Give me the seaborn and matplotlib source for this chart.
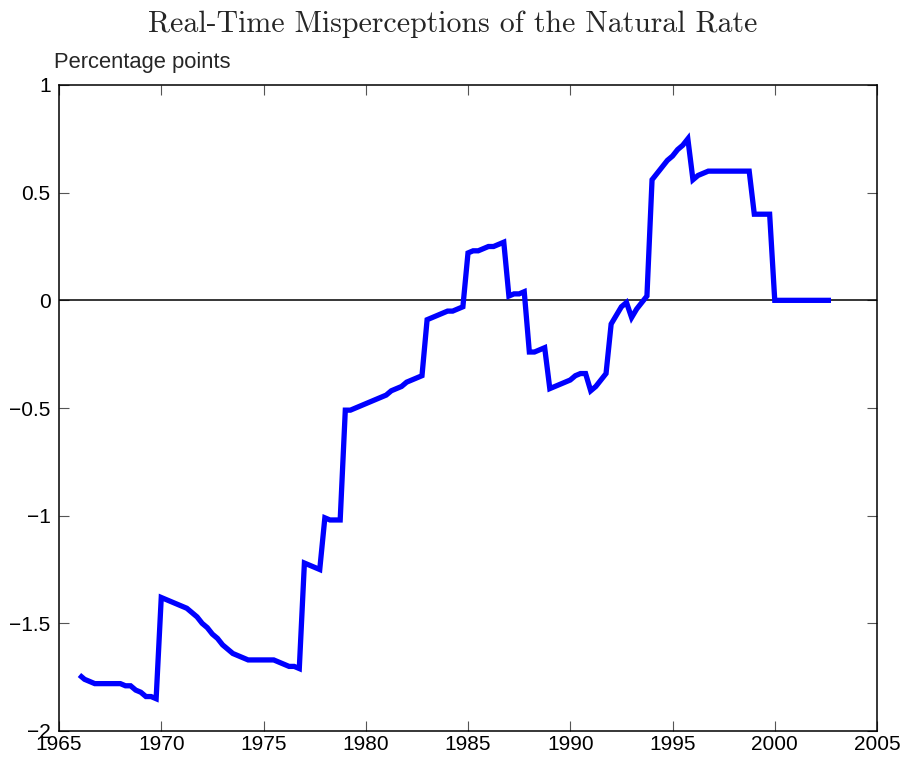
import numpy as np
import pandas as pd
import seaborn as sns
import matplotlib
matplotlib.use("Agg")
import matplotlib.pyplot as plt
from matplotlib.ticker import FuncFormatter

# quarterly real-time misperception of the natural rate, 1966Q1 - 2002Q4
start_year = 1966
misperception = [
    -1.74, -1.76, -1.77, -1.78,   # 1966
    -1.78, -1.78, -1.78, -1.78,   # 1967
    -1.78, -1.79, -1.79, -1.81,   # 1968
    -1.82, -1.84, -1.84, -1.85,   # 1969
    -1.38, -1.39, -1.40, -1.41,   # 1970
    -1.42, -1.43, -1.45, -1.47,   # 1971
    -1.50, -1.52, -1.55, -1.57,   # 1972
    -1.60, -1.62, -1.64, -1.65,   # 1973
    -1.66, -1.67, -1.67, -1.67,   # 1974
    -1.67, -1.67, -1.67, -1.68,   # 1975
    -1.69, -1.70, -1.70, -1.71,   # 1976
    -1.22, -1.23, -1.24, -1.25,   # 1977
    -1.01, -1.02, -1.02, -1.02,   # 1978
    -0.51, -0.51, -0.50, -0.49,   # 1979
    -0.48, -0.47, -0.46, -0.45,   # 1980
    -0.44, -0.42, -0.41, -0.40,   # 1981
    -0.38, -0.37, -0.36, -0.35,   # 1982
    -0.09, -0.08, -0.07, -0.06,   # 1983
    -0.05, -0.05, -0.04, -0.03,   # 1984
    0.22, 0.23, 0.23, 0.24,       # 1985
    0.25, 0.25, 0.26, 0.27,       # 1986
    0.02, 0.03, 0.03, 0.04,       # 1987
    -0.24, -0.24, -0.23, -0.22,   # 1988
    -0.41, -0.40, -0.39, -0.38,   # 1989
    -0.37, -0.35, -0.34, -0.34,   # 1990
    -0.42, -0.40, -0.37, -0.34,   # 1991
    -0.11, -0.07, -0.03, -0.01,   # 1992
    -0.08, -0.04, -0.01, 0.02,    # 1993
    0.56, 0.59, 0.62, 0.65,       # 1994
    0.67, 0.70, 0.72, 0.75,       # 1995
    0.56, 0.58, 0.59, 0.60,       # 1996
    0.60, 0.60, 0.60, 0.60,       # 1997
    0.60, 0.60, 0.60, 0.60,       # 1998
    0.40, 0.40, 0.40, 0.40,       # 1999
    0.00, 0.00, 0.00, 0.00,       # 2000
    0.00, 0.00, 0.00, 0.00,       # 2001
    0.00, 0.00, 0.00, 0.00,       # 2002
]
x_ticks = [1965, 1970, 1975, 1980, 1985, 1990, 1995, 2000, 2005]
y_ticks = [-2, -1.5, -1, -0.5, 0, 0.5, 1]

df = pd.DataFrame({
    "date": start_year + np.arange(len(misperception)) / 4.0,
    "value": misperception,
})

sns.set_style("ticks")
plt.rcParams["font.family"] = ["Liberation Sans", "DejaVu Sans"]

fig = plt.figure(figsize=(9.06, 7.62), dpi=100)
ax = fig.add_axes([59 / 906, 1 - 731 / 762, 818 / 906, 646 / 762])

ax.axhline(0, color="black", lw=1.1, zorder=1)
sns.lineplot(data=df, x="date", y="value", color=(0, 0, 1), lw=3.8, ax=ax,
             solid_joinstyle="miter", solid_capstyle="butt", zorder=2)

ax.set_xlim(1965, 2005)
ax.set_ylim(-2, 1)
ax.set_xticks(x_ticks)
ax.set_yticks(y_ticks)
ax.yaxis.set_major_formatter(FuncFormatter(lambda v, p: f"{v:g}".replace("-", "\u2212")))
ax.set_xlabel("")
ax.set_ylabel("")
ax.tick_params(direction="in", length=7, width=0.8, colors="#555555",
               labelcolor="black", labelsize=15, top=True, right=True)
ax.tick_params(axis="x", pad=3)
ax.tick_params(axis="y", pad=6)
for s in ax.spines.values():
    s.set_visible(True)
    s.set_linewidth(1.1)
    s.set_color("black")

ax.text(-0.006, 1.018, "Percentage points", transform=ax.transAxes,
        fontsize=15.8, ha="left", va="bottom")
fig.text(0.5, 1 - 32 / 762, "Real-Time Misperceptions of the Natural Rate",
         family=["cmr10", "DejaVu Serif"], fontsize=21.5, ha="center", va="baseline")

fig.savefig("out.png", dpi=100)
